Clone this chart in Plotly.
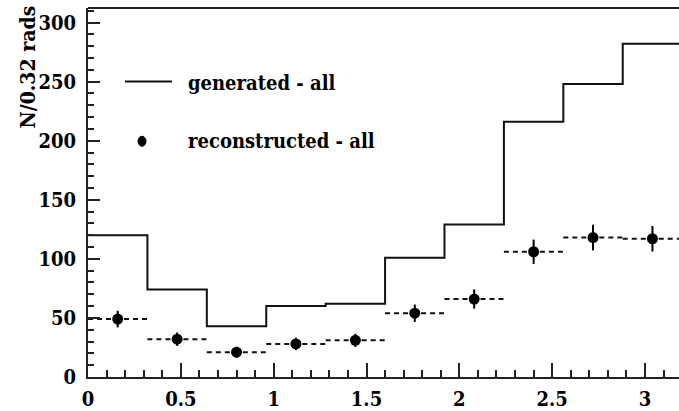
import numpy as np
import plotly.graph_objects as go

# Binning: 10 bins of 0.32 rad from 0 to 3.2
bin_edges = [0.0, 0.32, 0.64, 0.96, 1.28, 1.60, 1.92, 2.24, 2.56, 2.88, 3.20]
generated = [120, 74, 43, 60, 62, 101, 129, 216, 248, 282]
reconstructed = [49, 32, 21, 28, 31, 54, 66, 106, 118, 117]

y_ticks = [0, 50, 100, 150, 200, 250, 300]
x_ticks = [0, 0.5, 1, 1.5, 2, 2.5, 3]

FONT = "DejaVu Serif Condensed, DejaVu Serif"
W, H = 679, 411
ML, MR, MT, MB = 88, 0, 8, 32
PW, PH = W - ML - MR, H - MT - MB


def px(x):
    return (x - ML) / PW


def py(y):
    return (H - MB - y) / PH


centers = [(a + b) / 2 for a, b in zip(bin_edges[:-1], bin_edges[1:])]
errors = [float(np.sqrt(v)) for v in reconstructed]

fig = go.Figure()

# generated histogram as a step line
fig.add_trace(go.Scatter(
    x=bin_edges, y=generated + [generated[-1]],
    mode="lines", line=dict(shape="hv", color="#111", width=2),
    showlegend=False, hoverinfo="skip",
))

# dashed bin-width segments for reconstructed points
seg_x, seg_y = [], []
for a, b, v in zip(bin_edges[:-1], bin_edges[1:], reconstructed):
    seg_x += [a, b, None]
    seg_y += [v, v, None]
fig.add_trace(go.Scatter(
    x=seg_x, y=seg_y, mode="lines",
    line=dict(color="#111", width=2, dash="5px,4px"),
    showlegend=False, hoverinfo="skip",
))

# reconstructed points with sqrt(N) errors
fig.add_trace(go.Scatter(
    x=centers, y=reconstructed, mode="markers",
    marker=dict(symbol="circle", size=11, color="black"),
    error_y=dict(type="data", array=errors, visible=True,
                 color="black", thickness=2, width=0),
    showlegend=False,
))

axis_common = dict(
    showgrid=False, zeroline=False, showline=True,
    linecolor="#222", linewidth=2,
    ticks="inside", tickcolor="#222", tickwidth=1.5,
    tickfont=dict(family=FONT, size=20, color="black", weight="bold"),
)

fig.update_xaxes(
    range=[0, 3.183], tickvals=x_ticks,
    ticktext=[f"{t:g}" for t in x_ticks],
    ticklen=14,
    minor=dict(dtick=0.1, ticks="inside", ticklen=7, tickcolor="#222", tickwidth=1.5),
    ticklabelstandoff=3,
    **axis_common,
)
fig.update_yaxes(
    range=[0, 312.3], tickvals=y_ticks,
    ticktext=[str(t) for t in y_ticks],
    ticklen=12,
    minor=dict(dtick=10, ticks="inside", ticklen=6, tickcolor="#222", tickwidth=1.5),
    ticklabelstandoff=6,
    **axis_common,
)

shapes = [
    # top frame line
    dict(type="line", xref="paper", yref="paper", x0=0, x1=1, y0=1, y1=1,
         line=dict(color="#222", width=2)),
    # legend line sample
    dict(type="line", xref="paper", yref="paper",
         x0=px(125), x1=px(172), y0=py(82), y1=py(82),
         line=dict(color="#111", width=2)),
    # legend marker sample
    dict(type="circle", xref="paper", yref="paper",
         xsizemode="pixel", ysizemode="pixel",
         xanchor=px(142), yanchor=py(142),
         x0=-4, x1=4, y0=-5, y1=5,
         fillcolor="black", line=dict(color="black", width=1)),
]

legend_font = dict(family=FONT, size=20, color="black", weight="bold")
annotations = [
    dict(text="generated - all", xref="paper", yref="paper",
         x=px(186), y=py(83), xanchor="left", yanchor="middle",
         showarrow=False, font=legend_font),
    dict(text="reconstructed - all", xref="paper", yref="paper",
         x=px(186), y=py(142), xanchor="left", yanchor="middle",
         showarrow=False, font=legend_font),
    dict(text="N/0.32 rads", xref="paper", yref="paper",
         x=px(28), y=py(4), xanchor="center", yanchor="top",
         textangle=-90, showarrow=False,
         font=dict(family=FONT, size=21, color="black", weight="bold")),
]

fig.update_layout(
    width=W, height=H,
    margin=dict(l=ML, r=MR, t=MT, b=MB, pad=0),
    paper_bgcolor="white", plot_bgcolor="white",
    shapes=shapes, annotations=annotations,
    showlegend=False,
)

fig.write_html("out.html")
